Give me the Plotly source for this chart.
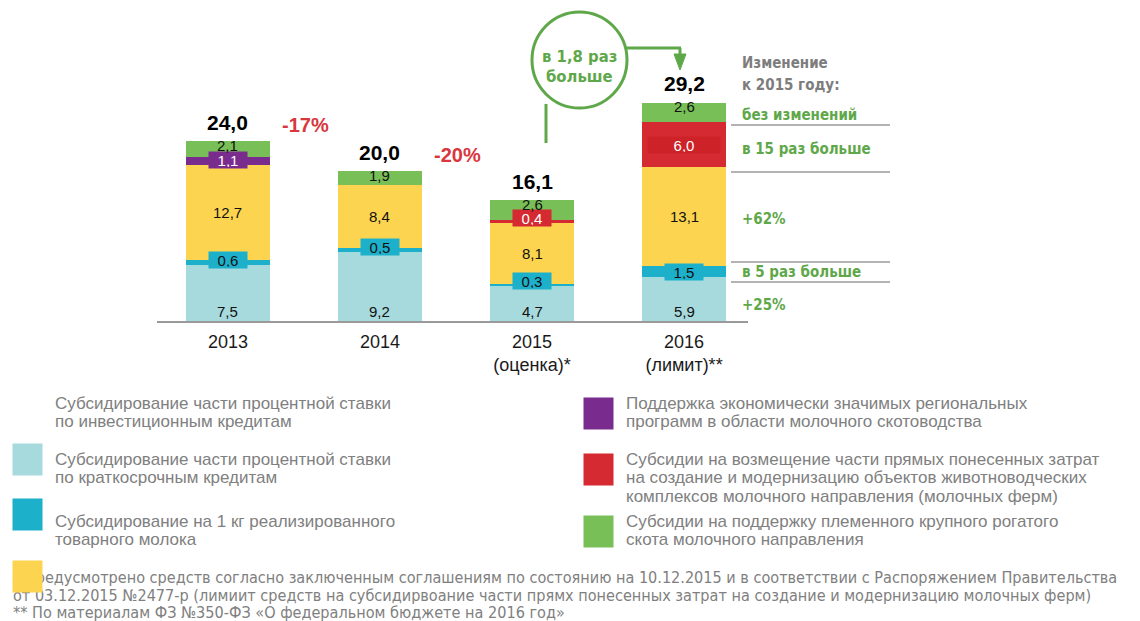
import plotly.graph_objects as go

OFF = 8                      # page body margin in the browser
W, H = 1140 - OFF, 621 - OFF

# ---------------- data ----------------
years = [0, 1, 2, 3]
tick_labels = ["2013", "2014", "2015<br>(оценка)*", "2016<br>(лимит)**"]

invest_credits = [7.5, 9.2, 4.7, 5.9]      # light teal
short_credits = [0.6, 0.5, 0.3, 1.5]       # teal
milk_kg = [12.7, 8.4, 8.1, 13.1]           # yellow
regional = [1.1, 0, 0, 0]                  # purple
farms = [0, 0, 0.4, 6.0]                   # red
breeding = [2.1, 1.9, 2.6, 2.6]            # green
totals = [24.0, 20.0, 16.1, 29.2]
year_changes = ["-17%", "-20%"]
change_to_2015 = ["без изменений", "в 15 раз больше", "+62%", "в 5 раз больше", "+25%"]

names = [
    "Субсидирование части процентной ставки<br>по инвестиционным кредитам",
    "Субсидирование части процентной ставки<br>по краткосрочным кредитам",
    "Субсидирование на 1 кг реализированного<br>товарного молока",
    "Поддержка экономически значимых региональных<br>программ в области молочного скотоводства",
    "Субсидии на возмещение части прямых понесенных затрат<br>на создание и модернизацию объектов животноводческих<br>комплексов молочного направления (молочных ферм)",
    "Субсидии на поддержку племенного крупного рогатого<br>скота молочного направления",
]
series = [invest_credits, short_credits, milk_kg, regional, farms, breeding]
colors = ["#a7dadd", "#1db0cb", "#fdd44f", "#7a2c8e", "#d52a31", "#77bf56"]
label_colors = ["#111", "#111", "#111", "#fff", "#fff", "#111"]

GREEN = "#5fa84a"
GRAY = "#7d7d7d"
SANS = "Liberation Sans, Arial, sans-serif"
NARROW = "DejaVu Sans Condensed, Liberation Sans Narrow, sans-serif"
SCALE = 7.5  # px per unit


def px(x, y):
    return (x - OFF) / W, 1 - (y - OFF) / H


fig = go.Figure()
for name, vals, col in zip(names, series, colors):
    fig.add_trace(go.Bar(x=years, y=vals, name=name.replace("<br>", " "),
                         marker=dict(color=col, line=dict(width=0)),
                         width=0.553, showlegend=False, hoverinfo="y"))

annotations = []
shapes = []

# segment value labels
for i in years:
    base = 0.0
    for s, vals in enumerate(series):
        v = vals[i]
        if v <= 0:
            continue
        txt = f"{v:.1f}".replace(".", ",")
        font = dict(family=SANS, size=15, color=label_colors[s])
        if s == 0:
            annotations.append(dict(x=i, y=base, text=txt, showarrow=False, yanchor="bottom",
                                    yshift=-1, font=font))
        elif s == len(series) - 1:
            annotations.append(dict(x=i, y=totals[i], text=txt, showarrow=False, yanchor="top",
                                    yshift=6, font=font))
        elif v < 2:
            annotations.append(dict(x=i, y=base, text=txt, showarrow=False, yanchor="bottom",
                                    yshift=-4, bgcolor=colors[s], width=36, height=14,
                                    font=font))
        elif s == 4:
            annotations.append(dict(x=i, y=base + v / 2, text=txt, showarrow=False,
                                    bgcolor="#cc2228", width=70, height=14, font=font))
        else:
            annotations.append(dict(x=i, y=base + v / 2, text=txt, showarrow=False, font=font))
        base += v

# totals
for i, t in zip(years, totals):
    annotations.append(dict(x=i, y=t, text=f"<b>{t:.1f}</b>".replace(".", ","), showarrow=False,
                            yanchor="bottom", yshift=5,
                            font=dict(family=SANS, size=21, color="#000")))

# year-over-year changes
for k, txt in enumerate(year_changes):
    annotations.append(dict(x=k + 0.51, y=totals[k] + 2.2, text=f"<b>{txt}</b>", showarrow=False,
                            xanchor="center", yanchor="middle",
                            font=dict(family=SANS, size=20, color="#d9363e")))

# circle callout
cx0, cy0 = px(532, 12)
cx1, cy1 = px(627, 108)
shapes.append(dict(type="circle", xref="paper", yref="paper", x0=cx0, y0=cy1, x1=cx1, y1=cy0,
                   line=dict(color=GREEN, width=3)))
a, b = px(546, 104)
c, d = px(546, 143)
shapes.append(dict(type="line", xref="paper", yref="paper", x0=a, y0=b, x1=c, y1=d,
                   line=dict(color=GREEN, width=3)))
a, b = px(626, 48)
c, d = px(681, 48)
shapes.append(dict(type="line", xref="paper", yref="paper", x0=a, y0=b, x1=c, y1=d,
                   line=dict(color=GREEN, width=3)))
a, b = px(680, 48)
c, d = px(680, 56)
shapes.append(dict(type="line", xref="paper", yref="paper", x0=a, y0=b, x1=c, y1=d,
                   line=dict(color=GREEN, width=3)))
p1 = px(674, 54); p2 = px(686, 54); p3 = px(680, 70)
shapes.append(dict(type="path", xref="paper", yref="paper",
                   path=f"M {p1[0]},{p1[1]} L {p2[0]},{p2[1]} L {p3[0]},{p3[1]} Z",
                   fillcolor=GREEN, line=dict(color=GREEN, width=1)))
for txt, yy in [("в 1,8 раз", 57), ("больше", 77)]:
    x_, y_ = px(579, yy)
    annotations.append(dict(xref="paper", yref="paper", x=x_, y=y_, text=f"<b>{txt}</b>",
                            xanchor="center", yanchor="middle", showarrow=False,
                            font=dict(family=NARROW, size=16.5, color=GREEN)))

# right-hand comments
for txt, yy in [("Изменение", 63), ("к 2015 году:", 85)]:
    x_, y_ = px(740, yy)
    annotations.append(dict(xref="paper", yref="paper", x=x_, y=y_, xanchor="left",
                            yanchor="middle", text=f"<b>{txt}</b>", showarrow=False,
                            font=dict(family=NARROW, size=15, color=GRAY)))
for txt, yy in zip(change_to_2015, [115, 149, 219, 272, 305]):
    x_, y_ = px(740, yy)
    annotations.append(dict(xref="paper", yref="paper", x=x_, y=y_, xanchor="left", yanchor="middle",
                            text=f"<b>{txt}</b>", showarrow=False,
                            font=dict(family=NARROW, size=15, color=GREEN)))
for yy in [125, 172, 262, 282]:
    a, b = px(731, yy)
    c, d = px(890, yy)
    shapes.append(dict(type="line", xref="paper", yref="paper", x0=a, y0=b, x1=c, y1=d,
                       line=dict(color="#9a9a9a", width=1.5)))

# legend texts (line by line)
LEG = dict(family=SANS, size=17, color="#808080")
leg_text_pos = [(53, 403), (53, 459), (53, 521), (624, 403), (624, 459), (624, 521)]
for name, (xx, yy) in zip(names, leg_text_pos):
    for j, line in enumerate(name.split("<br>")):
        x_, y_ = px(xx, yy + 18.5 * j)
        annotations.append(dict(xref="paper", yref="paper", x=x_, y=y_, xanchor="left",
                                yanchor="middle", text=line, showarrow=False, font=LEG))

# footnotes
FOOT = dict(family=NARROW, size=16.1, color="#808080")
foot = [
    ("* Предусмотрено средств согласно заключенным соглашениям по состоянию на 10.12.2015 и в соответствии с Распоряжением Правительства", 577),
    ("от 03.12.2015 №2477-р (лимиит средств на субсидирвоание части прямх понесенных затрат на создание и модернизацию молочных ферм)", 595),
    ("** По материалам ФЗ №350-ФЗ «О федеральном бюджете на 2016 год»", 612),
]
for txt, yy in foot:
    x_, y_ = px(11, yy)
    annotations.append(dict(xref="paper", yref="paper", x=x_, y=y_, xanchor="left", yanchor="middle",
                            text=txt, showarrow=False, font=FOOT))

# legend squares (annotations drawn after the footnote so the yellow one sits on top)
squares = [(12, 443, colors[0]), (12, 498, colors[1]), (12, 560, colors[2]),
           (583, 397, colors[3]), (583, 453, colors[4]), (583, 515, colors[5])]
for xx, yy, col in squares:
    x_, y_ = px(xx, yy)
    annotations.append(dict(xref="paper", yref="paper", x=x_, y=y_, xanchor="left", yanchor="top",
                            text=" ", showarrow=False, bgcolor=col, width=29, height=31,
                            borderpad=0, font=dict(size=10)))

y_base = 1 - (321 - OFF) / H
y_top = 1 - (21 - OFF) / H
fig.update_layout(
    width=W, height=H, barmode="stack", bargap=0,
    margin=dict(l=0, r=0, t=0, b=0),
    paper_bgcolor="white", plot_bgcolor="white",
    xaxis=dict(domain=[(157 - OFF) / W, (748 - OFF) / W], range=[-0.467, 3.421], tickvals=years,
               ticktext=tick_labels, showgrid=False, zeroline=False, showline=True,
               linecolor="#9a9a9a", linewidth=2, ticks="", ticklabelstandoff=3,
               tickfont=dict(family=SANS, size=18, color="#1a1a1a")),
    yaxis=dict(domain=[y_base, y_top], range=[0, 300 / SCALE], visible=False),
    annotations=annotations, shapes=shapes,
)

fig.write_html("out.html")
